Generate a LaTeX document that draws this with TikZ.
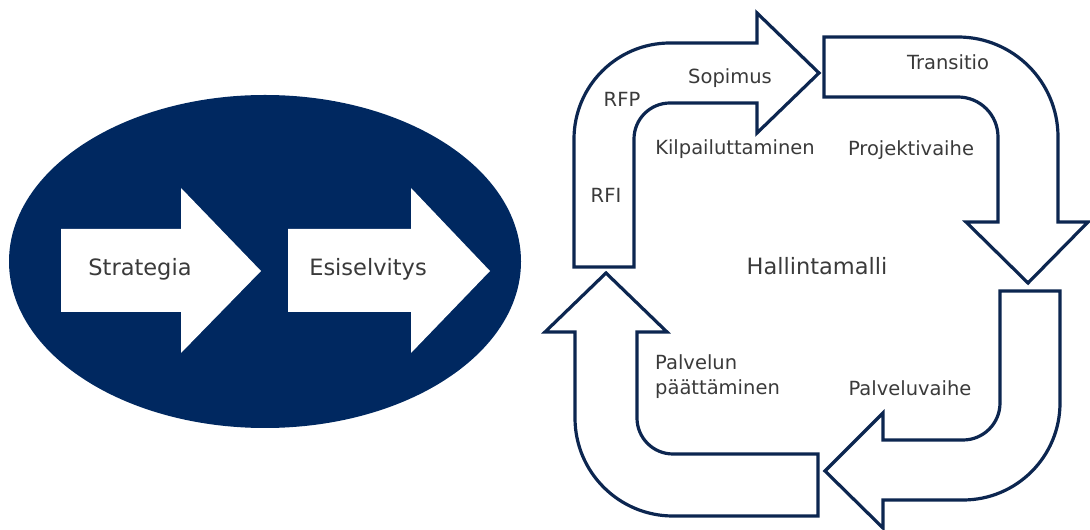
\documentclass[tikz,border=0pt]{standalone}
\usepackage{fontspec}
\setmainfont{DejaVu Sans}
\definecolor{navy}{RGB}{0,40,96}
\definecolor{navyline}{RGB}{12,38,80}
\definecolor{txt}{RGB}{58,58,58}
\begin{document}
\begin{tikzpicture}[x=1pt,y=1pt,
  lbl/.style={font=\fontsize{19.5}{25}\selectfont, text=txt, inner sep=0pt, text height=.73em, text depth=0pt},
  biglbl/.style={font=\fontsize{22.5}{27}\selectfont, text=txt, inner sep=0pt, text height=.73em, text depth=0pt},
  bent/.style={draw=navyline, line width=3.2pt, fill=white, line join=miter},
  flat/.style={fill=white, draw=none}]
\useasboundingbox (0,0) rectangle (1090,530);
% ellipse
\fill[navy] (265,268.5) ellipse[x radius=256, y radius=166.5];
% white arrows inside the ellipse
\fill[flat] (61,301) -- (181,301) -- (181,342) -- (261,259) -- (181,177) -- (181,218) -- (61,218) -- cycle;
\fill[flat] (288,301) -- (411,301) -- (411,342) -- (490,259) -- (411,177) -- (411,218) -- (288,218) -- cycle;
\node[biglbl] (strat) at (140,258) {Strategia};
\node[biglbl] (esis) at (368,258) {Esiselvitys};
% bent arrows
\draw[bent] (574,263) -- (574,391) arc[start angle=180,end angle=90,radius=96]
  -- (757,487) -- (757,517) -- (819,457) -- (757,397) -- (757,427) -- (670,427)
  arc[start angle=90,end angle=180,radius=36] -- (634,263) -- cycle;
\draw[bent] (824,493) -- (958,493) arc[start angle=90,end angle=0,radius=100]
  -- (1058,308) -- (1088,308) -- (1028,247) -- (966,308) -- (998,308) -- (998,393)
  arc[start angle=0,end angle=90,radius=40] -- (824,433) -- cycle;
\draw[bent] (1000,239) -- (1060,239) -- (1060,127) arc[start angle=0,end angle=-90,radius=97]
  -- (883,30) -- (883,2) -- (825,59) -- (883,117) -- (883,90) -- (963,90)
  arc[start angle=-90,end angle=0,radius=37] -- cycle;
\draw[bent] (818,76) -- (818,14) -- (673,14) arc[start angle=-90,end angle=-180,radius=98]
  -- (575,198) -- (545,198) -- (606,257) -- (667,198) -- (637,198) -- (637,112)
  arc[start angle=180,end angle=270,radius=36] -- cycle;
% labels
\node[lbl] (rfp) at (622,427) {RFP};
\node[lbl] (sop) at (730,450) {Sopimus};
\node[lbl] (kilp) at (735,379) {Kilpailuttaminen};
\node[lbl] (rfi) at (606,331) {RFI};
\node[lbl] (trans) at (948,464) {Transitio};
\node[lbl] (proj) at (911,378) {Projektivaihe};
\node[biglbl] (hall) at (817,259) {Hallintamalli};
\node[lbl] (palv) at (910,138) {Palveluvaihe};
\node[lbl, anchor=west] (pal1) at (655,164) {Palvelun};
\node[lbl, anchor=west] (pal2) at (655,139) {päättäminen};
\end{tikzpicture}
\end{document}
